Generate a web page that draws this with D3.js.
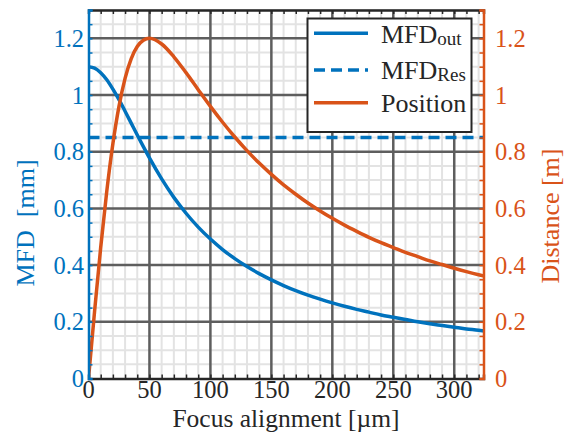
<!DOCTYPE html>
<html>
<head>
<meta charset="utf-8">
<script src="https://cdn.jsdelivr.net/npm/d3@7"></script>
<style>
  html, body { margin: 0; padding: 0; background: #fff; }
  svg { display: block; }
  text { font-family: "Liberation Serif", "Times New Roman", serif; }
</style>
</head>
<body>
<svg id="chart" width="565" height="432"></svg>
<script>
// Focus alignment positions [µm]
const focusAlign = [0, 5, 10, 15, 20, 25, 30, 35, 40, 45, 50, 60, 70, 80, 90, 100,
  110, 120, 130, 140, 150, 160, 170, 180, 190, 200, 210, 220, 230, 240, 250,
  260, 270, 280, 290, 300, 310, 320, 325];

// Output mode field diameter [mm]
const mfdOut = [1.100, 1.095, 1.079, 1.054, 1.021, 0.984, 0.943, 0.901, 0.859, 0.818, 0.778,
  0.704, 0.639, 0.583, 0.534, 0.492, 0.455, 0.423, 0.395, 0.370, 0.348, 0.328, 0.310,
  0.294, 0.280, 0.267, 0.255, 0.244, 0.234, 0.224, 0.216, 0.208, 0.200, 0.193, 0.187,
  0.181, 0.175, 0.170, 0.167];

// Focus position distance [m]
const position = [0.000, 0.238, 0.462, 0.661, 0.828, 0.960, 1.059, 1.128, 1.171, 1.193, 1.200,
  1.180, 1.135, 1.079, 1.019, 0.960, 0.904, 0.852, 0.804, 0.760, 0.720, 0.683, 0.650,
  0.619, 0.591, 0.565, 0.541, 0.519, 0.498, 0.479, 0.462, 0.445, 0.430, 0.415, 0.402,
  0.389, 0.377, 0.366, 0.361];

// Reference mode field diameter [mm]
const mfdRes = 0.85;

const xTicks = [0, 50, 100, 150, 200, 250, 300];
const yTicks = [0, 0.2, 0.4, 0.6, 0.8, 1, 1.2];
const yTickLabels = ["0", "0.2", "0.4", "0.6", "0.8", "1", "1.2"];

const legendLabels = [
  { main: "MFD", sub: "out" },
  { main: "MFD", sub: "Res" },
  { main: "Position", sub: "" }
];

const BLUE = "#0072BD";
const ORANGE = "#D95319";
const DARK = "#262626";

const svg = d3.select("#chart");
const L = 88.5, R = 483.5, T = 10, B = 378.5;

const x = d3.scaleLinear().domain([0, 324]).range([L, R]);
const yL = d3.scaleLinear().domain([0, 1.3]).range([B, T]);
const yR = d3.scaleLinear().domain([0, 1.3]).range([B, T]);

svg.append("defs").append("clipPath").attr("id", "plotClip")
  .append("rect").attr("x", L).attr("y", T).attr("width", R - L).attr("height", B - T);

// Minor grid
const xMinor = d3.range(10, 324, 10).filter(v => v % 50 !== 0);
const yMinor = d3.range(1, 27).map(i => +(i * 0.05).toFixed(2)).filter(v => Math.abs(v / 0.2 - Math.round(v / 0.2)) > 1e-6);
const grid = svg.append("g");
grid.selectAll(".xmin").data(xMinor).join("line")
  .attr("x1", d => x(d)).attr("x2", d => x(d)).attr("y1", T).attr("y2", B)
  .attr("stroke", "#e3e3e3").attr("stroke-width", 2);
grid.selectAll(".ymin").data(yMinor).join("line")
  .attr("x1", L).attr("x2", R).attr("y1", d => yL(d)).attr("y2", d => yL(d))
  .attr("stroke", "#e3e3e3").attr("stroke-width", 2);
// Major grid
grid.selectAll(".xmaj").data(xTicks.slice(1)).join("line")
  .attr("x1", d => x(d)).attr("x2", d => x(d)).attr("y1", T).attr("y2", B)
  .attr("stroke", "#5e5e5e").attr("stroke-width", 2.5);
grid.selectAll(".ymaj").data(yTicks.slice(1)).join("line")
  .attr("x1", L).attr("x2", R).attr("y1", d => yL(d)).attr("y2", d => yL(d))
  .attr("stroke", "#5e5e5e").attr("stroke-width", 2.5);

// Curves
const plot = svg.append("g").attr("clip-path", "url(#plotClip)");
const pts = (arr) => focusAlign.map((f, i) => [f, arr[i]]);

plot.append("line")
  .attr("x1", L).attr("x2", R).attr("y1", yL(mfdRes)).attr("y2", yL(mfdRes))
  .attr("stroke", BLUE).attr("stroke-width", 3.5).attr("stroke-dasharray", "11,6");

plot.append("path").datum(pts(mfdOut))
  .attr("fill", "none").attr("stroke", BLUE).attr("stroke-width", 3.5)
  .attr("d", d3.line().x(d => x(d[0])).y(d => yL(d[1])).curve(d3.curveMonotoneX));

plot.append("path").datum(pts(position))
  .attr("fill", "none").attr("stroke", ORANGE).attr("stroke-width", 3.5)
  .attr("d", d3.line().x(d => x(d[0])).y(d => yR(d[1])).curve(d3.curveMonotoneX));

// Axes
const xMinorAll = d3.range(0, 324, 10);
const yMinorAll = d3.range(0, 27).map(i => +(i * 0.05).toFixed(2));

const axBottom = svg.append("g").attr("transform", `translate(0,${B})`)
  .call(d3.axisBottom(x).tickValues(xMinorAll).tickSize(-4).tickFormat(""));
const axTop = svg.append("g").attr("transform", `translate(0,${T})`)
  .call(d3.axisTop(x).tickValues(xMinorAll).tickSize(-4).tickFormat(""));
[axBottom, axTop].forEach(g => {
  g.select(".domain").attr("stroke", DARK).attr("stroke-width", 2.5);
  g.selectAll(".tick line").attr("stroke", DARK).attr("stroke-width", 1.5);
});

const axLeft = svg.append("g").attr("transform", `translate(${L},0)`)
  .call(d3.axisLeft(yL).tickValues(yMinorAll).tickSize(-4).tickFormat(""));
axLeft.select(".domain").attr("stroke", BLUE).attr("stroke-width", 2.5);
axLeft.selectAll(".tick line").attr("stroke", BLUE).attr("stroke-width", 1.5);

const axRight = svg.append("g").attr("transform", `translate(${R},0)`)
  .call(d3.axisRight(yR).tickValues(yMinorAll).tickSize(-4).tickFormat(""));
axRight.select(".domain").attr("stroke", ORANGE).attr("stroke-width", 2.5);
axRight.selectAll(".tick line").attr("stroke", ORANGE).attr("stroke-width", 1.5);

// Tick labels
const FS = 24.5;
svg.append("g").selectAll("text").data(xTicks).join("text")
  .attr("x", d => x(d)).attr("y", 398).attr("text-anchor", "middle")
  .attr("font-size", FS).attr("fill", DARK).text(d => d);

svg.append("g").selectAll("text").data(yTicks).join("text")
  .attr("x", 84).attr("y", d => yL(d) + 8.5).attr("text-anchor", "end")
  .attr("font-size", FS).attr("fill", BLUE).text((d, i) => yTickLabels[i]);

svg.append("g").selectAll("text").data(yTicks).join("text")
  .attr("x", 495).attr("y", d => yR(d) + 8.5).attr("text-anchor", "start")
  .attr("font-size", FS).attr("fill", ORANGE).text((d, i) => yTickLabels[i]);

// Axis titles
svg.append("text").attr("x", (L + R) / 2).attr("y", 426.5).attr("text-anchor", "middle")
  .attr("font-size", 25.5).attr("fill", DARK).text("Focus alignment [µm]");

svg.append("text").attr("transform", "translate(34,223) rotate(-90)")
  .attr("text-anchor", "middle").attr("font-size", 26).attr("fill", BLUE)
  .attr("xml:space", "preserve").text("MFD  [mm]");

svg.append("text").attr("transform", "translate(559,216) rotate(-90)")
  .attr("text-anchor", "middle").attr("font-size", 26).attr("fill", ORANGE)
  .text("Distance [m]");

// Legend
const lg = svg.append("g");
lg.append("rect").attr("x", 307.5).attr("y", 18.5).attr("width", 164).attr("height", 113.5)
  .attr("fill", "#fff").attr("stroke", DARK).attr("stroke-width", 2);
const rowY = [33.3, 70, 102.7];
const rowBase = [43.3, 79.3, 111.7];
const rowStyle = [
  { c: BLUE, dash: null },
  { c: BLUE, dash: "11,6" },
  { c: ORANGE, dash: null }
];
legendLabels.forEach((lab, i) => {
  lg.append("line").attr("x1", 314).attr("x2", 368).attr("y1", rowY[i]).attr("y2", rowY[i])
    .attr("stroke", rowStyle[i].c).attr("stroke-width", 3.5)
    .attr("stroke-dasharray", rowStyle[i].dash);
  const t = lg.append("text").attr("x", 381).attr("y", rowBase[i])
    .attr("font-size", 26).attr("fill", DARK);
  t.append("tspan").text(lab.main);
  if (lab.sub) t.append("tspan").attr("font-size", 19).attr("dy", 2).text(lab.sub);
});
</script>
</body>
</html>
